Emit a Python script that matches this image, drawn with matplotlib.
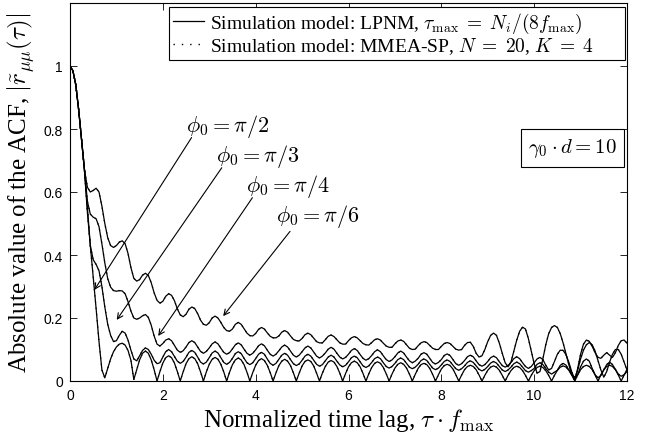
import numpy as np
import matplotlib
matplotlib.use('Agg')
import matplotlib.pyplot as plt

# normalized time lag grid (tau * f_max), step 1/16
tau = np.linspace(0, 12, 193)

# |ACF|, one list per phi_0 (8 values per 0.5 of tau)
acf_pi2 = [1.0, 0.985, 0.94, 0.86, 0.765, 0.665, 0.535, 0.43,
           0.33, 0.23, 0.125, 0.035, 0.01, 0.04, 0.07, 0.093,
           0.108, 0.117, 0.12, 0.114, 0.097, 0.066, 0.005, 0.036,
           0.067, 0.088, 0.095, 0.088, 0.067, 0.036, 0.0, 0.03,
           0.057, 0.074, 0.08, 0.074, 0.057, 0.03, 0.0, 0.029,
           0.055, 0.071, 0.077, 0.071, 0.055, 0.029, 0.0, 0.029,
           0.053, 0.069, 0.075, 0.069, 0.053, 0.029, 0.0, 0.028,
           0.052, 0.067, 0.073, 0.067, 0.052, 0.028, 0.0, 0.027,
           0.05, 0.065, 0.071, 0.065, 0.05, 0.027, 0.0, 0.026,
           0.049, 0.063, 0.069, 0.063, 0.049, 0.026, 0.0, 0.025,
           0.048, 0.062, 0.067, 0.062, 0.048, 0.025, 0.0, 0.025,
           0.046, 0.06, 0.065, 0.06, 0.046, 0.025, 0.0, 0.024,
           0.045, 0.058, 0.063, 0.058, 0.045, 0.024, 0.0, 0.023,
           0.043, 0.056, 0.061, 0.056, 0.043, 0.023, 0.0, 0.022,
           0.041, 0.053, 0.058, 0.053, 0.041, 0.022, 0.0, 0.021,
           0.04, 0.052, 0.056, 0.052, 0.04, 0.021, 0.0, 0.02,
           0.038, 0.049, 0.053, 0.049, 0.038, 0.02, 0.0, 0.019,
           0.036, 0.046, 0.05, 0.046, 0.036, 0.019, 0.0, 0.018,
           0.034, 0.044, 0.048, 0.044, 0.034, 0.018, 0.0, 0.018,
           0.033, 0.043, 0.047, 0.043, 0.033, 0.018, 0.0, 0.018,
           0.033, 0.043, 0.047, 0.043, 0.033, 0.018, 0.0, 0.018,
           0.034, 0.044, 0.048, 0.044, 0.034, 0.018, 0.0, 0.019,
           0.036, 0.046, 0.05, 0.046, 0.036, 0.019, 0.0, 0.019,
           0.036, 0.046, 0.05, 0.046, 0.036, 0.019, 0.0, 0.019,
           0.036]

acf_pi3 = [1.0, 0.985, 0.94, 0.86, 0.765, 0.67, 0.55, 0.43,
           0.385, 0.37, 0.35, 0.3, 0.235, 0.18, 0.145, 0.125,
           0.128, 0.145, 0.158, 0.152, 0.13, 0.098, 0.07, 0.064,
           0.08, 0.097, 0.105, 0.1, 0.085, 0.066, 0.055, 0.058,
           0.076, 0.093, 0.1, 0.093, 0.078, 0.063, 0.056, 0.062,
           0.0755, 0.091, 0.097, 0.091, 0.076, 0.06, 0.054, 0.06,
           0.074, 0.089, 0.095, 0.089, 0.074, 0.059, 0.053, 0.059,
           0.072, 0.087, 0.093, 0.087, 0.072, 0.058, 0.052, 0.058,
           0.071, 0.085, 0.091, 0.085, 0.07, 0.056, 0.05, 0.056,
           0.069, 0.082, 0.088, 0.082, 0.068, 0.055, 0.049, 0.054,
           0.066, 0.079, 0.085, 0.079, 0.066, 0.053, 0.047, 0.052,
           0.064, 0.076, 0.082, 0.076, 0.063, 0.051, 0.045, 0.05,
           0.061, 0.074, 0.079, 0.074, 0.061, 0.048, 0.043, 0.048,
           0.059, 0.071, 0.076, 0.071, 0.058, 0.046, 0.041, 0.046,
           0.056, 0.068, 0.073, 0.068, 0.056, 0.044, 0.039, 0.044,
           0.053, 0.065, 0.07, 0.065, 0.053, 0.041, 0.036, 0.041,
           0.051, 0.062, 0.067, 0.062, 0.05, 0.039, 0.034, 0.039,
           0.048, 0.059, 0.064, 0.059, 0.048, 0.037, 0.032, 0.037,
           0.046, 0.057, 0.062, 0.057, 0.046, 0.035, 0.03, 0.035,
           0.044, 0.055, 0.06, 0.055, 0.044, 0.033, 0.028, 0.033,
           0.04, 0.053, 0.058, 0.052, 0.04, 0.028, 0.022, 0.028,
           0.034, 0.05, 0.056, 0.05, 0.034, 0.02, 0.012, 0.02,
           0.045, 0.063, 0.07, 0.063, 0.04, 0.02, 0.01, 0.018,
           0.035, 0.052, 0.06, 0.052, 0.037, 0.022, 0.015, 0.02,
           0.03]

acf_pi4 = [1.0, 0.985, 0.94, 0.86, 0.765, 0.67, 0.57, 0.53,
           0.52, 0.515, 0.49, 0.435, 0.375, 0.325, 0.298, 0.287,
           0.285, 0.287, 0.286, 0.277, 0.252, 0.222, 0.2, 0.196,
           0.2, 0.207, 0.211, 0.202, 0.177, 0.143, 0.117, 0.111,
           0.119, 0.13, 0.134, 0.128, 0.113, 0.098, 0.091, 0.096,
           0.108, 0.122, 0.128, 0.122, 0.108, 0.094, 0.088, 0.094,
           0.105, 0.118, 0.124, 0.118, 0.104, 0.091, 0.085, 0.09,
           0.102, 0.115, 0.121, 0.115, 0.101, 0.088, 0.082, 0.088,
           0.099, 0.112, 0.118, 0.112, 0.098, 0.085, 0.079, 0.085,
           0.096, 0.108, 0.114, 0.108, 0.095, 0.082, 0.076, 0.082,
           0.093, 0.105, 0.111, 0.105, 0.092, 0.079, 0.073, 0.079,
           0.089, 0.101, 0.107, 0.101, 0.088, 0.076, 0.07, 0.075,
           0.085, 0.097, 0.103, 0.097, 0.084, 0.072, 0.066, 0.071,
           0.081, 0.093, 0.099, 0.093, 0.08, 0.068, 0.062, 0.067,
           0.077, 0.089, 0.095, 0.089, 0.076, 0.064, 0.058, 0.063,
           0.072, 0.085, 0.09, 0.085, 0.072, 0.059, 0.054, 0.059,
           0.068, 0.081, 0.086, 0.081, 0.068, 0.055, 0.05, 0.055,
           0.065, 0.077, 0.082, 0.077, 0.064, 0.052, 0.047, 0.052,
           0.062, 0.074, 0.079, 0.074, 0.061, 0.049, 0.044, 0.049,
           0.059, 0.071, 0.077, 0.071, 0.058, 0.046, 0.04, 0.046,
           0.058, 0.07, 0.075, 0.068, 0.05, 0.035, 0.04, 0.062,
           0.085, 0.098, 0.097, 0.083, 0.058, 0.028, 0.005, 0.035,
           0.07, 0.098, 0.115, 0.122, 0.115, 0.095, 0.065, 0.035,
           0.012, 0.03, 0.06, 0.085, 0.1, 0.1, 0.085, 0.06,
           0.035]

acf_pi6 = [1.0, 0.985, 0.94, 0.86, 0.765, 0.67, 0.615, 0.6,
           0.605, 0.612, 0.6, 0.555, 0.5, 0.455, 0.43, 0.424,
           0.43, 0.441, 0.445, 0.436, 0.405, 0.36, 0.326, 0.317,
           0.322, 0.336, 0.342, 0.335, 0.312, 0.28, 0.256, 0.247,
           0.253, 0.269, 0.277, 0.272, 0.255, 0.229, 0.21, 0.204,
           0.212, 0.228, 0.235, 0.23, 0.214, 0.193, 0.18, 0.177,
           0.185, 0.2, 0.206, 0.2, 0.186, 0.17, 0.16, 0.158,
           0.165, 0.18, 0.186, 0.18, 0.166, 0.152, 0.144, 0.143,
           0.151, 0.164, 0.17, 0.165, 0.153, 0.142, 0.137, 0.137,
           0.143, 0.155, 0.16, 0.155, 0.143, 0.132, 0.128, 0.127,
           0.135, 0.147, 0.152, 0.147, 0.136, 0.125, 0.121, 0.121,
           0.131, 0.142, 0.146, 0.141, 0.131, 0.121, 0.117, 0.117,
           0.128, 0.137, 0.141, 0.137, 0.128, 0.119, 0.115, 0.114,
           0.122, 0.131, 0.134, 0.13, 0.12, 0.111, 0.107, 0.107,
           0.118, 0.127, 0.13, 0.126, 0.115, 0.104, 0.1, 0.101,
           0.112, 0.121, 0.125, 0.122, 0.113, 0.104, 0.1, 0.1,
           0.11, 0.119, 0.122, 0.119, 0.11, 0.101, 0.098, 0.1,
           0.113, 0.122, 0.123, 0.11, 0.088, 0.076, 0.08, 0.1,
           0.125, 0.145, 0.152, 0.145, 0.12, 0.088, 0.058, 0.045,
           0.06, 0.095, 0.13, 0.158, 0.171, 0.165, 0.135, 0.095,
           0.055, 0.025, 0.03, 0.07, 0.115, 0.15, 0.17, 0.176,
           0.17, 0.15, 0.12, 0.085, 0.05, 0.02, 0.002, 0.04,
           0.085, 0.117, 0.13, 0.126, 0.11, 0.09, 0.075, 0.072,
           0.082, 0.09, 0.082, 0.075, 0.09, 0.113, 0.128, 0.13,
           0.12]

curves = [acf_pi2, acf_pi3, acf_pi4, acf_pi6]

phi_labels = [r'$\phi_0 = \pi/2$', r'$\phi_0 = \pi/3$', r'$\phi_0 = \pi/4$', r'$\phi_0 = \pi/6$']
label_xy = [(2.50, 0.793), (3.15, 0.697), (3.79, 0.602), (4.44, 0.507)]
arrow_start = [(2.62, 0.773), (3.27, 0.677), (3.93, 0.582), (4.74, 0.475)]
arrow_tip = [(0.524, 0.289), (1.006, 0.194), (1.90, 0.143), (3.30, 0.206)]

xticks = [0, 2, 4, 6, 8, 10, 12]
yticks = [0, 0.2, 0.4, 0.6, 0.8, 1.0]
ytick_labels = ['0', '0.2', '0.4', '0.6', '0.8', '1']

plt.rcParams['font.family'] = ['Liberation Serif', 'DejaVu Serif']
plt.rcParams['mathtext.fontset'] = 'cm'

fig = plt.figure(figsize=(6.46, 4.39), dpi=100)
ax = fig.add_axes([70/646, 1 - 382/439, 557/646, 378/439])

for acf in curves:
    ax.plot(tau, acf, color='k', lw=0.9, ls='-')
    ax.plot(tau, acf, color='k', lw=0.9, ls=(0, (1, 4)))

# legend handles
h1, = ax.plot([], [], color='k', lw=0.9, ls='-')
h2, = ax.plot([], [], color='k', lw=1.0, ls=(0, (1, 5)))
leg = ax.legend([h1, h2],
                [r'Simulation model: LPNM, $\tau_{\max}\;=\;N_i/(8f_{\max})$',
                 r'Simulation model: MMEA-SP, $N\;=\;20$, $K\;=\;4$'],
                loc='upper left', bbox_to_anchor=(0.1777, 0.5, 0.818, 0.489),
                mode='expand', fontsize=14,
                frameon=True, fancybox=False, framealpha=1, edgecolor='k',
                handlelength=1.6, handletextpad=0.3, labelspacing=0.0,
                borderpad=0.2, borderaxespad=0.0)
leg.get_frame().set_linewidth(0.8)

for txt, pos, st, tip in zip(phi_labels, label_xy, arrow_start, arrow_tip):
    ax.text(pos[0], pos[1], txt, fontsize=16, ha='left', va='baseline')
    ax.annotate('', xy=tip, xytext=st,
                arrowprops=dict(arrowstyle='->', color='k', lw=0.8,
                                shrinkA=0, shrinkB=0, mutation_scale=10))

ax.text(10.82, 0.74, r'$\gamma_0 \cdot d = 10$', fontsize=15, ha='center', va='center',
        bbox=dict(boxstyle='square,pad=0.35', fc='white', ec='k', lw=0.8))

ax.set_xlim(0, 12)
ax.set_ylim(0, 1.2)
ax.set_xticks(xticks)
ax.set_xticklabels([str(v) for v in xticks])
ax.set_yticks(yticks)
ax.set_yticklabels(ytick_labels)
ax.tick_params(direction='in', top=True, right=True, length=5, width=0.6, labelsize=10, pad=5)
for lbl in ax.get_xticklabels() + ax.get_yticklabels():
    lbl.set_fontfamily('Liberation Sans')
for sp in ax.spines.values():
    sp.set_linewidth(0.8)

ax.set_xlabel(r'Normalized time lag, $\tau \cdot f_{\max}$', fontsize=18, labelpad=3)
ax.set_ylabel(r'Absolute value of the ACF, $|\tilde{r}_{\mu\mu}(\tau)|$', fontsize=18, labelpad=5)

fig.savefig('out.png', dpi=100)
